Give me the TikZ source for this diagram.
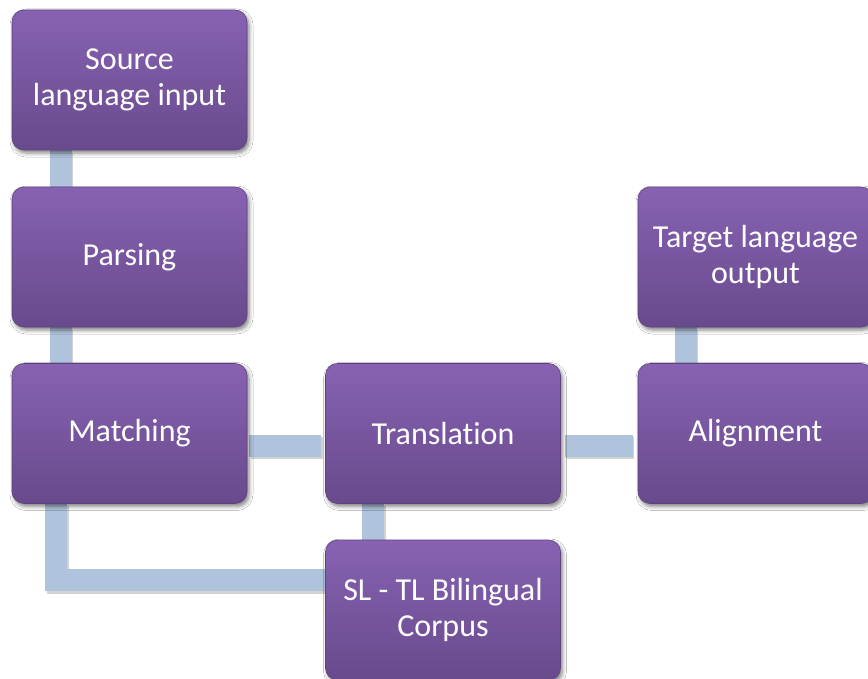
\documentclass[tikz,border=0pt]{standalone}
\usepackage{fontspec}
\setmainfont[Ligatures=NoCommon]{Carlito}
\usetikzlibrary{shadows.blur,backgrounds}
\definecolor{boxtop}{HTML}{8762B2}
\definecolor{boxbot}{HTML}{684A8C}
\definecolor{boxedge}{HTML}{5E427F}
\definecolor{barcol}{HTML}{B0C3DC}
\tikzset{
  stagebox/.style={rounded corners=12pt, minimum width=235pt, minimum height=140pt,
    top color=boxtop, bottom color=boxbot, draw=boxedge, line width=0.6pt,
    text=white, align=center, inner sep=2pt,
    font=\fontsize{32}{36}\selectfont,
    blur shadow={shadow xshift=2pt, shadow yshift=-3pt, shadow blur radius=4pt, shadow opacity=50}},
  bar/.style={draw=barcol, line width=22pt, line cap=butt,
    preaction={draw=black!70, opacity=0.25, line width=22pt,
      transform canvas={shift={(1.5pt,-2.5pt)}}}},
  barjoin/.style={bar, line join=miter}
}
\begin{document}
\begin{tikzpicture}[x=1pt,y=-1pt]
\useasboundingbox (0,0) rectangle (868,679);
\node[stagebox] (src) at (129.5,80) {Source\\language input};
\node[stagebox] (par) at (129.5,257) {Parsing};
\node[stagebox] (mat) at (129.5,433.5) {Matching};
\node[stagebox] (tra) at (443,433.5) {Translation};
\node[stagebox] (ali) at (755.5,433.5) {Alignment};
\node[stagebox] (tgt) at (755.5,257) {Target language\\output};
\node[stagebox] (cor) at (443,610) {SL - TL Bilingual\\Corpus};
\begin{scope}[on background layer]
  \fill[white] (0,0) rectangle (868,679);
  \draw[bar] ([xshift=49pt]src.south west) -- ([xshift=49pt]par.north west);
  \draw[bar] ([xshift=49pt]par.south west) -- ([xshift=49pt]mat.north west);
  \draw[bar] ([yshift=-12pt,xshift=2pt]mat.east) -- ([yshift=-12pt,xshift=-4pt]tra.west);
  \draw[bar] ([yshift=-12pt,xshift=4pt]tra.east) -- ([yshift=-12pt,xshift=-5pt]ali.west);
  \draw[bar] ([xshift=48pt]ali.north west) -- ([xshift=48pt]tgt.south west);
  \draw[bar] ([xshift=48pt]tra.south west) -- ([xshift=48pt]cor.north west);
  \draw[barjoin] ([xshift=44.5pt]mat.south west) |- ([yshift=30pt]cor.west);
\end{scope}
\end{tikzpicture}
\end{document}
